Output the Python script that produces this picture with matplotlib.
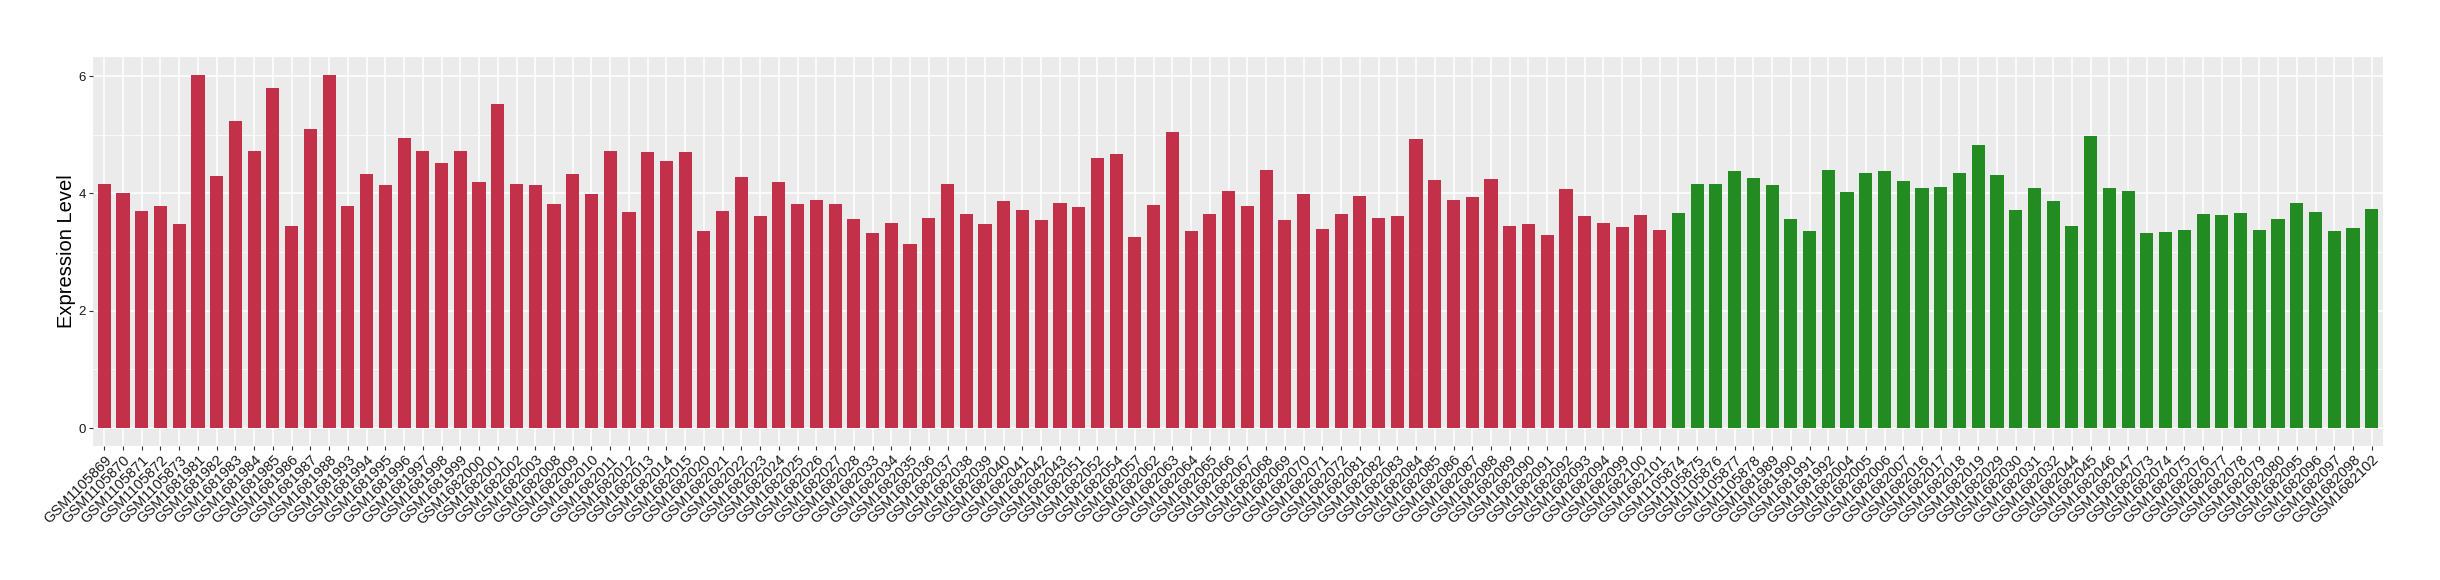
import matplotlib
matplotlib.use("Agg")
import matplotlib.pyplot as plt
from matplotlib.ticker import MultipleLocator

plt.rcParams["font.family"] = ["Liberation Sans", "DejaVu Sans"]

RED = "#C2304A"
GREEN = "#228B22"

red_labels = (
    ["GSM11058%02d" % n for n in range(69, 74)]
    + ["GSM1681%03d" % n for n in range(981, 989)]
    + ["GSM1681%03d" % n for n in range(993, 1000)]
    + ["GSM1682000", "GSM1682001", "GSM1682002", "GSM1682003"]
    + ["GSM1682%03d" % n for n in range(8, 16)]
    + ["GSM1682%03d" % n for n in range(20, 29)]
    + ["GSM1682%03d" % n for n in range(33, 44)]
    + ["GSM1682051", "GSM1682052", "GSM1682054", "GSM1682057",
       "GSM1682062", "GSM1682063", "GSM1682064", "GSM1682065"]
    + ["GSM1682%03d" % n for n in range(66, 73)]
    + ["GSM1682%03d" % n for n in range(81, 95)]
    + ["GSM1682099", "GSM1682100", "GSM1682101"]
)
red_values = [
    4.16, 4.01, 3.70, 3.79, 3.48, 6.02, 4.29, 5.23, 4.72, 5.79, 3.45, 5.09,
    6.01, 3.79, 4.33, 4.14, 4.95, 4.72,
    4.51, 4.72, 4.19, 5.53, 4.16, 4.14, 3.82, 4.33, 3.99, 4.72, 3.68, 4.70,
    4.56, 4.70, 3.36, 3.70, 4.28, 3.62, 4.19, 3.82, 3.89,
    3.82, 3.56, 3.33, 3.50, 3.14, 3.58, 4.16, 3.65, 3.48, 3.87, 3.72, 3.55,
    3.84, 3.77, 4.60, 4.67, 3.26, 3.80, 5.04, 3.36, 3.65,
    4.04, 3.79, 4.40, 3.55, 3.99, 3.40, 3.65, 3.95, 3.58, 3.62, 4.92, 4.23,
    3.89, 3.94, 4.24, 3.45, 3.48, 3.29, 4.07, 3.62, 3.50, 3.43, 3.63, 3.38,
]

green_labels = (
    ["GSM11058%02d" % n for n in range(74, 79)]
    + ["GSM1681%03d" % n for n in range(989, 993)]
    + ["GSM1682004", "GSM1682005", "GSM1682006", "GSM1682007"]
    + ["GSM1682016", "GSM1682017", "GSM1682018", "GSM1682019"]
    + ["GSM1682029", "GSM1682030", "GSM1682031", "GSM1682032"]
    + ["GSM1682044", "GSM1682045", "GSM1682046", "GSM1682047"]
    + ["GSM1682%03d" % n for n in range(73, 81)]
    + ["GSM1682095", "GSM1682096", "GSM1682097", "GSM1682098"]
    + ["GSM1682102"]
)
green_values = [
    3.67, 4.16, 4.16, 4.38, 4.26, 4.14, 3.56, 3.36, 4.40, 4.02, 4.34, 4.38,
    4.21, 4.09, 4.11, 4.34, 4.82, 4.31,
    3.72, 4.09, 3.87, 3.45, 4.97, 4.09, 4.04, 3.33, 3.34, 3.38, 3.65, 3.63,
    3.67, 3.38, 3.56, 3.84, 3.68, 3.36, 3.41, 3.73,
]

labels = red_labels + green_labels
values = red_values + green_values
colors = [RED] * len(red_values) + [GREEN] * len(green_values)
x = list(range(len(values)))

fig = plt.figure(figsize=(24.4, 5.8), dpi=100)
ax = fig.add_axes([93 / 2440, 1 - 445.7 / 580, 2290 / 2440, 389 / 580])
ax.set_facecolor("#EBEBEB")

ax.bar(x, values, width=0.7, color=colors, zorder=3)

ax.set_xlim(-0.6, len(values) - 0.4)
ax.set_ylim(-0.30, 6.33)
ax.yaxis.set_major_locator(MultipleLocator(2))
ax.yaxis.set_minor_locator(MultipleLocator(1))
ax.set_xticks(x)
ax.set_xticklabels(labels, rotation=45, ha="right", va="top",
                   rotation_mode="anchor", fontsize=10.5, color="#1A1A1A")

ax.grid(which="major", color="white", linewidth=1.1, zorder=0)
ax.grid(which="minor", axis="y", color="white", linewidth=0.55, zorder=0)
ax.set_axisbelow(True)
for s in ax.spines.values():
    s.set_visible(False)

ax.tick_params(axis="both", which="major", length=3, width=0.8,
               color="#333333", labelsize=9.5, labelcolor="#1A1A1A", pad=2)
ax.tick_params(axis="y", which="minor", length=0)
ax.tick_params(axis="x", labelsize=10.5)

ax.set_ylabel("Expression Level", fontsize=14.5, color="black")
ax.yaxis.set_label_coords(-0.0075, 0.5)

fig.savefig("out.png", dpi=100)
